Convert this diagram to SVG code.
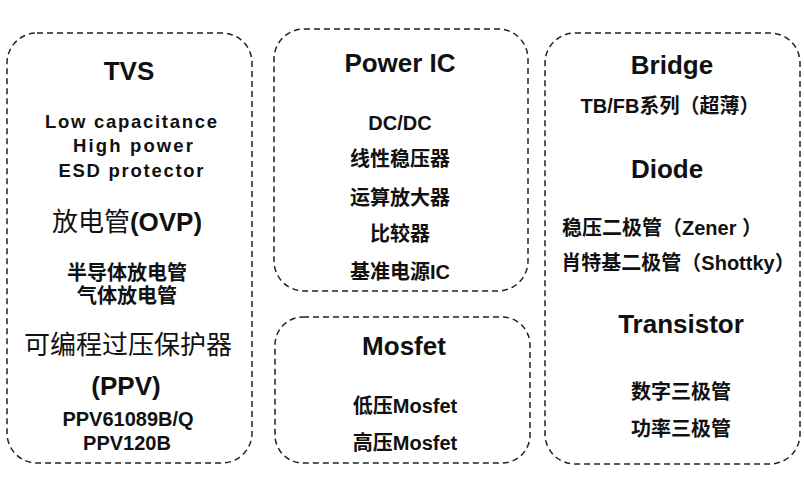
<svg xmlns="http://www.w3.org/2000/svg" width="804" height="480" viewBox="0 0 804 480">
<style>
.box{fill:#fff;stroke:#222;stroke-width:1.5;stroke-dasharray:6 4}
text{font-family:"Liberation Sans","Noto Sans CJK SC",sans-serif;fill:#111;text-anchor:middle}
.t{font-size:26px;font-weight:bold}
.s{font-size:20px;font-weight:bold}
.l{font-size:18.5px;font-weight:bold}
.c{font-size:26px;font-weight:normal}
</style>
<rect width="804" height="480" fill="#fff"/>
<g id="tvs">
<rect class="box" x="7" y="33" width="245" height="430" rx="30"/>
<text class="t" x="129" y="80">TVS</text>
<text class="l" x="131" y="128" textLength="172" lengthAdjust="spacing">Low  capacitance</text>
<text class="l" x="133" y="152" textLength="120" lengthAdjust="spacing">High  power</text>
<text class="l" x="131" y="177" textLength="145" lengthAdjust="spacing">ESD  protector</text>
<text class="c" x="127" y="231">放电管<tspan font-weight="bold">(OVP)</tspan></text>
<text class="s" x="127" y="280">半导体放电管</text>
<text class="s" x="127" y="303">气体放电管</text>
<text class="c" x="128" y="354">可编程过压保护器</text>
<text class="t" x="126" y="395">(PPV)</text>
<text class="s" x="128" y="426">PPV61089B/Q</text>
<text class="s" x="127" y="450">PPV120B</text>
</g>
<g id="poweric">
<rect class="box" x="274" y="29" width="254" height="262" rx="30"/>
<text class="t" x="400" y="72">Power IC</text>
<text class="s" x="400" y="130">DC/DC</text>
<text class="s" x="400" y="166">线性稳压器</text>
<text class="s" x="400" y="205">运算放大器</text>
<text class="s" x="400" y="241">比较器</text>
<text class="s" x="400" y="279">基准电源IC</text>
</g>
<g id="mosfet">
<rect class="box" x="275" y="317" width="255" height="146" rx="28"/>
<text class="t" x="404" y="355">Mosfet</text>
<text class="s" x="405" y="413">低压Mosfet</text>
<text class="s" x="405" y="450">高压Mosfet</text>
</g>
<g id="discrete">
<rect class="box" x="545" y="33" width="255" height="431" rx="30"/>
<text class="t" x="672" y="74">Bridge</text>
<text class="s" x="670" y="113">TB/FB系列（超薄）</text>
<text class="t" x="667" y="178">Diode</text>
<text class="s" x="662" y="235">稳压二极管（Zener ）</text>
<text class="s" x="678" y="270">肖特基二极管（Shottky）</text>
<text class="t" x="681" y="333">Transistor</text>
<text class="s" x="681" y="399">数字三极管</text>
<text class="s" x="681" y="436">功率三极管</text>
</g>
<g id="connectors"></g>
</svg>
